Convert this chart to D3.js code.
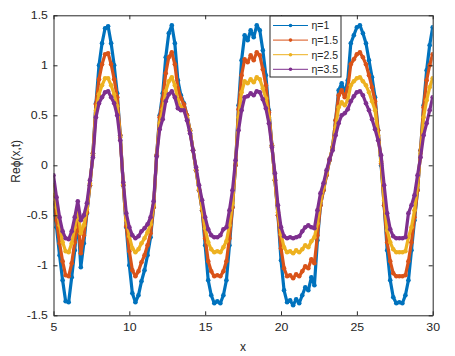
<!DOCTYPE html>
<html>
<head>
<meta charset="utf-8">
<script src="https://cdn.jsdelivr.net/npm/d3@7"></script>
<style>
  body { margin: 0; background: #fff; }
  svg text { font-family: "Liberation Sans", Arial, sans-serif; fill: #262626; }
</style>
</head>
<body>
<div id="chart"></div>
<script>
// Legend labels and tick values
const etaLabels = ['η=1', 'η=1.5', 'η=2.5', 'η=3.5'];
const xTicks = [5, 10, 15, 20, 25, 30];
const yTicks = [-1.5, -1, -0.5, 0, 0.5, 1, 1.5];

// x grid: 5 .. 30, step 0.2
const xGrid = d3.range(0, 126).map(i => +(5 + i * 0.2).toFixed(1));

// Re phi(x,t), one array per eta
const eta1 = [
  -0.38, -0.62, -0.90, -1.15, -1.36, -1.37, -1.12, -0.85, -0.52, -1.02,
  -0.78, -0.48, -0.20, 0.12, 0.62, 1.00, 1.22, 1.37, 1.39, 1.22,
  1.00, 0.72, 0.30, -0.20, -0.62, -1.00, -1.28, -1.37, -1.30, -1.16,
  -1.05, -0.90, -0.72, -0.42, 0.10, 0.50, 0.72, 1.08, 1.32, 1.40,
  1.22, 0.85, 0.70, 0.62, 0.50, 0.35, 0.15, -0.05, -0.25, -0.45,
  -0.80, -1.15, -1.30, -1.38, -1.36, -1.38, -1.30, -1.15, -0.80, -0.42,
  0.00, 0.60, 1.05, 1.30, 1.25, 1.35, 1.28, 1.40, 1.35, 1.15,
  0.90, 0.55, 0.20, -0.15, -0.50, -0.95, -1.25, -1.37, -1.35, -1.40,
  -1.34, -1.38, -1.30, -1.22, -1.25, -1.12, -1.20, -0.75, -0.40, -0.25,
  -0.10, 0.05, 0.18, 0.45, 0.75, 0.82, 0.72, 0.85, 1.22, 1.30,
  1.38, 1.40, 1.32, 1.22, 1.05, 0.88, 0.68, 0.35, 0.00, -0.40,
  -0.85, -1.15, -1.32, -1.38, -1.37, -1.38, -1.30, -1.15, -0.85, -0.55,
  -0.25, 0.15, 0.60, 0.95, 1.20, 1.38
];
const eta15 = [
  -0.30, -0.55, -0.78, -0.96, -1.10, -1.11, -0.98, -0.77, -0.50, -0.88,
  -0.70, -0.47, -0.20, 0.12, 0.61, 0.86, 1.01, 1.11, 1.12, 1.01,
  0.86, 0.68, 0.30, -0.20, -0.61, -0.86, -1.05, -1.11, -1.06, -0.97,
  -0.90, -0.80, -0.68, -0.42, 0.10, 0.48, 0.66, 0.92, 1.08, 1.13,
  1.01, 0.77, 0.67, 0.61, 0.50, 0.35, 0.15, -0.05, -0.25, -0.45,
  -0.73, -0.96, -1.06, -1.11, -1.10, -1.11, -1.06, -0.96, -0.73, -0.42,
  0.00, 0.56, 0.90, 1.06, 1.03, 1.10, 1.05, 1.13, 1.10, 0.96,
  0.80, 0.53, 0.20, -0.15, -0.50, -0.83, -1.03, -1.11, -1.10, -1.13,
  -1.09, -1.11, -1.06, -1.01, -1.03, -0.94, -0.98, -0.70, -0.40, -0.25,
  -0.10, 0.05, 0.18, 0.45, 0.70, 0.75, 0.68, 0.77, 1.01, 1.06,
  1.11, 1.13, 1.08, 1.01, 0.90, 0.78, 0.64, 0.35, 0.02, -0.40,
  -0.77, -0.96, -1.08, -1.11, -1.11, -1.11, -1.10, -0.96, -0.77, -0.52,
  -0.25, 0.15, 0.58, 0.85, 1.00, 1.11
];
const eta25 = [
  -0.20, -0.42, -0.60, -0.77, -0.86, -0.87, -0.78, -0.62, -0.45, -0.68,
  -0.60, -0.44, -0.18, 0.10, 0.55, 0.71, 0.80, 0.87, 0.87, 0.80,
  0.71, 0.59, 0.28, -0.19, -0.55, -0.71, -0.83, -0.87, -0.84, -0.78,
  -0.73, -0.67, -0.59, -0.40, 0.10, 0.42, 0.56, 0.74, 0.84, 0.88,
  0.80, 0.65, 0.58, 0.55, 0.48, 0.34, 0.15, -0.04, -0.24, -0.43,
  -0.63, -0.77, -0.84, -0.87, -0.86, -0.87, -0.82, -0.76, -0.60, -0.38,
  0.02, 0.48, 0.73, 0.84, 0.82, 0.86, 0.83, 0.88, 0.86, 0.77,
  0.67, 0.48, 0.19, -0.14, -0.47, -0.69, -0.82, -0.87, -0.86, -0.88,
  -0.85, -0.87, -0.84, -0.80, -0.82, -0.76, -0.72, -0.58, -0.36, -0.22,
  -0.08, 0.06, 0.17, 0.38, 0.58, 0.63, 0.60, 0.65, 0.80, 0.84,
  0.87, 0.88, 0.84, 0.80, 0.73, 0.64, 0.55, 0.30, 0.04, -0.35,
  -0.65, -0.77, -0.84, -0.87, -0.87, -0.87, -0.86, -0.72, -0.62, -0.45,
  -0.20, 0.12, 0.48, 0.65, 0.78, 0.87
];
const eta35 = [
  -0.10, -0.32, -0.52, -0.66, -0.73, -0.74, -0.66, -0.52, -0.36, -0.55,
  -0.50, -0.38, -0.15, 0.08, 0.48, 0.62, 0.68, 0.73, 0.74, 0.68,
  0.62, 0.50, 0.25, -0.17, -0.48, -0.62, -0.70, -0.73, -0.71, -0.66,
  -0.63, -0.59, -0.52, -0.36, 0.09, 0.36, 0.46, 0.64, 0.71, 0.74,
  0.68, 0.57, 0.55, 0.55, 0.45, 0.32, 0.15, -0.02, -0.20, -0.35,
  -0.52, -0.64, -0.70, -0.72, -0.72, -0.70, -0.64, -0.62, -0.45, -0.25,
  0.05, 0.35, 0.55, 0.68, 0.69, 0.72, 0.70, 0.74, 0.73, 0.66,
  0.57, 0.42, 0.18, -0.08, -0.40, -0.62, -0.71, -0.73, -0.72, -0.73,
  -0.72, -0.71, -0.66, -0.62, -0.60, -0.62, -0.63, -0.45, -0.28, -0.18,
  -0.05, 0.06, 0.15, 0.30, 0.42, 0.50, 0.52, 0.56, 0.64, 0.69,
  0.73, 0.74, 0.70, 0.62, 0.55, 0.46, 0.36, 0.25, 0.10, -0.20,
  -0.48, -0.64, -0.71, -0.73, -0.73, -0.73, -0.72, -0.48, -0.40, -0.30,
  -0.10, 0.08, 0.30, 0.42, 0.55, 0.68
];

const seriesValues = [eta1, eta15, eta25, eta35];
const colors = ['#0072BD', '#D95319', '#EDB120', '#7E2F8E'];

// Layout
const width = 455;
const height = 356;
const plotLeft = 53.5;
const plotRight = 432.7;
const plotTop = 15.3;
const plotBottom = 315.3;

const svg = d3
  .select('#chart')
  .append('svg')
  .attr('width', width)
  .attr('height', height);

const x = d3.scaleLinear().domain([5, 30]).range([plotLeft, plotRight]);
const y = d3.scaleLinear().domain([-1.5, 1.5]).range([plotBottom, plotTop]);

// Clip so the thick lines stay inside the box
svg.append('clipPath').attr('id', 'plotclip')
  .append('rect')
  .attr('x', plotLeft).attr('y', plotTop)
  .attr('width', plotRight - plotLeft).attr('height', plotBottom - plotTop);

const plot = svg.append('g').attr('clip-path', 'url(#plotclip)');

const line = d3.line()
  .x(d => x(d[0]))
  .y(d => y(d[1]));

// Draw series (blue first, purple on top)
seriesValues.forEach((vals, s) => {
  const pts = xGrid.map((xv, i) => [xv, vals[i]]);
  plot.append('path')
    .datum(pts)
    .attr('fill', 'none')
    .attr('stroke', colors[s])
    .attr('stroke-width', 3.2)
    .attr('stroke-linejoin', 'round')
    .attr('d', line);
  plot.selectAll('.dot' + s)
    .data(pts)
    .enter()
    .append('circle')
    .attr('class', 'dot' + s)
    .attr('cx', d => x(d[0]))
    .attr('cy', d => y(d[1]))
    .attr('r', 2.3)
    .attr('fill', colors[s]);
});

// Axes (MATLAB style: box, inward ticks)
const fmt = d => String(d);
const axisColor = '#262626';

const xAxisB = svg.append('g')
  .attr('transform', `translate(0,${plotBottom})`)
  .call(d3.axisBottom(x).tickValues(xTicks).tickFormat(fmt).tickSizeInner(-4).tickSizeOuter(0).tickPadding(8));
const xAxisT = svg.append('g')
  .attr('transform', `translate(0,${plotTop})`)
  .call(d3.axisTop(x).tickValues(xTicks).tickFormat('').tickSizeInner(-4).tickSizeOuter(0));
const yAxisL = svg.append('g')
  .attr('transform', `translate(${plotLeft},0)`)
  .call(d3.axisLeft(y).tickValues(yTicks).tickFormat(fmt).tickSizeInner(-4).tickSizeOuter(0).tickPadding(5));
const yAxisR = svg.append('g')
  .attr('transform', `translate(${plotRight},0)`)
  .call(d3.axisRight(y).tickValues(yTicks).tickFormat('').tickSizeInner(-4).tickSizeOuter(0));

[xAxisB, xAxisT, yAxisL, yAxisR].forEach(g => {
  g.selectAll('path').attr('stroke', axisColor);
  g.selectAll('line').attr('stroke', axisColor);
  g.selectAll('text')
    .attr('font-size', '11px')
    .attr('fill', axisColor)
    .attr('transform', 'scale(1.12,1)');
});

// Axis labels
svg.append('text')
  .attr('x', (plotLeft + plotRight) / 2)
  .attr('y', 351)
  .attr('text-anchor', 'middle')
  .attr('font-size', '12px')
  .text('x');

svg.append('text')
  .attr('transform', `translate(20,${(plotTop + plotBottom) / 2 - 4}) rotate(-90)`)
  .attr('text-anchor', 'middle')
  .attr('font-size', '12px')
  .text('Reϕ(x,t)');

// Legend
const legend = svg.append('g').attr('transform', 'translate(270,16)');
legend.append('rect')
  .attr('width', 71)
  .attr('height', 61)
  .attr('fill', '#fff')
  .attr('stroke', axisColor)
  .attr('stroke-width', 1);

etaLabels.forEach((lab, i) => {
  const ly = 9.5 + i * 14.6;
  legend.append('line')
    .attr('x1', 3).attr('x2', 38)
    .attr('y1', ly).attr('y2', ly)
    .attr('stroke', colors[i])
    .attr('stroke-width', 1);
  legend.append('circle')
    .attr('cx', 20.5).attr('cy', ly)
    .attr('r', 1.8)
    .attr('fill', colors[i]);
  legend.append('text')
    .attr('x', 41.5)
    .attr('y', ly + 3.8)
    .attr('font-size', '10.5px')
    .text(lab);
});
</script>
</body>
</html>
